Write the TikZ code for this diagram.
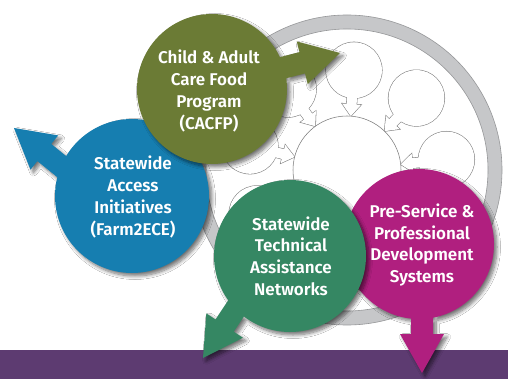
\documentclass[tikz,border=0pt]{standalone}
\usepackage{fontspec}
\newfontfamily\lblfont{Fira Sans SemiBold}
\usetikzlibrary{calc,shadows.blur}
\definecolor{cOlive}{RGB}{107,123,53}
\definecolor{cBlue}{RGB}{22,126,176}
\definecolor{cGreen}{RGB}{53,135,99}
\definecolor{cMag}{RGB}{176,31,127}
\definecolor{cBar}{RGB}{93,59,113}
\definecolor{cRing}{RGB}{198,199,201}
\definecolor{cRingLine}{RGB}{150,151,153}
\definecolor{cBub}{RGB}{125,125,125}
\begin{document}
\begin{tikzpicture}[x=1pt,y=-1pt,
  lbl/.style={text=white, align=center, font=\lblfont\fontsize{17}{21.7}\selectfont, inner sep=0pt},
  bubline/.style={draw=cBub, line width=1.1pt},
  dropshade/.style={blur shadow={shadow xshift=3pt, shadow yshift=-3pt, shadow blur radius=3.5pt, shadow blur steps=8, shadow opacity=55}}
]
\useasboundingbox (0,0) rectangle (508,379);
\fill[white] (0,0) rectangle (508,379);
% bottom bar
\fill[cBar] (0,350) rectangle (508,379);
% ring
\coordinate (hub) at (347,170);
\fill[cRing, even odd rule] (hub) circle[radius=155] (hub) circle[radius=141];
\draw[cRingLine, line width=0.6pt] (hub) circle[radius=155] (hub) circle[radius=141];
% small bubbles: strokes
\foreach \a in {-86,-46,...,234} {
  \draw[bubline] ($(hub)+(\a:100)$) circle[radius=28];
  \draw[bubline] ($(hub)+(\a:82)+(\a+90:5)$) -- ($(hub)+(\a:66)+(\a+90:5)$) -- ($(hub)+(\a:66)+(\a+90:9.5)$) -- ($(hub)+(\a:54)$) -- ($(hub)+(\a:66)+(\a-90:9.5)$) -- ($(hub)+(\a:66)+(\a-90:5)$) -- ($(hub)+(\a:82)+(\a-90:5)$) -- cycle;
}
% small bubbles: fills
\foreach \a in {-86,-46,...,234} {
  \fill[white] ($(hub)+(\a:100)$) circle[radius=28];
  \fill[white] ($(hub)+(\a:82)+(\a+90:5)$) -- ($(hub)+(\a:66)+(\a+90:5)$) -- ($(hub)+(\a:66)+(\a+90:9.5)$) -- ($(hub)+(\a:54)$) -- ($(hub)+(\a:66)+(\a-90:9.5)$) -- ($(hub)+(\a:66)+(\a-90:5)$) -- ($(hub)+(\a:82)+(\a-90:5)$) -- cycle;
}
% central circle
\path[fill=white, draw=cBub, line width=0.55pt] (hub) circle[radius=54];
% magenta
\coordinate (mT) at (422,373);
\path[fill=cMag, dropshade] (419,244) circle[radius=75]
  ($(mT)+(270:120)+(0:11)$) -- ($(mT)+(270:39)+(0:11)$) -- ($(mT)+(270:39)+(0:22)$) -- (mT) -- ($(mT)+(270:39)+(180:22)$) -- ($(mT)+(270:39)+(180:11)$) -- ($(mT)+(270:120)+(180:11)$) -- cycle;
% green
\coordinate (gT) at (203,358);
\path[fill=cGreen, dropshade] (290,256) circle[radius=76]
  ($(gT)+(303.7:110)+(33.7:11)$) -- ($(gT)+(303.7:39)+(33.7:11)$) -- ($(gT)+(303.7:39)+(33.7:22)$) -- (gT) -- ($(gT)+(303.7:39)+(213.7:22)$) -- ($(gT)+(303.7:39)+(213.7:11)$) -- ($(gT)+(303.7:110)+(213.7:11)$) -- cycle;
% blue
\coordinate (bT) at (14,128);
\path[fill=cBlue, dropshade] (132,196) circle[radius=77]
  ($(bT)+(39:110)+(129:11)$) -- ($(bT)+(39:39)+(129:11)$) -- ($(bT)+(39:39)+(129:22)$) -- (bT) -- ($(bT)+(39:39)+(309:22)$) -- ($(bT)+(39:39)+(309:11)$) -- ($(bT)+(39:110)+(309:11)$) -- cycle;
% olive
\coordinate (oT) at (340,53);
\path[fill=cOlive, dropshade] (212,89) circle[radius=75]
  ($(oT)+(165.5:120)+(-104.5:11)$) -- ($(oT)+(165.5:39)+(-104.5:11)$) -- ($(oT)+(165.5:39)+(-104.5:22)$) -- (oT) -- ($(oT)+(165.5:39)+(75.5:22)$) -- ($(oT)+(165.5:39)+(75.5:11)$) -- ($(oT)+(165.5:120)+(75.5:11)$) -- cycle;
% labels
\node[lbl] (cacfp) at (209,91) {Child \& Adult\\Care Food\\Program\\(CACFP)};
\node[lbl] (farm) at (133,197) {Statewide\\Access\\Initiatives\\(Farm2ECE)};
\node[lbl] (sta) at (291,256) {Statewide\\Technical\\Assistance\\Networks};
\node[lbl] (psd) at (422,245) {Pre-Service \&\\Professional\\Development\\Systems};
\end{tikzpicture}
\end{document}
